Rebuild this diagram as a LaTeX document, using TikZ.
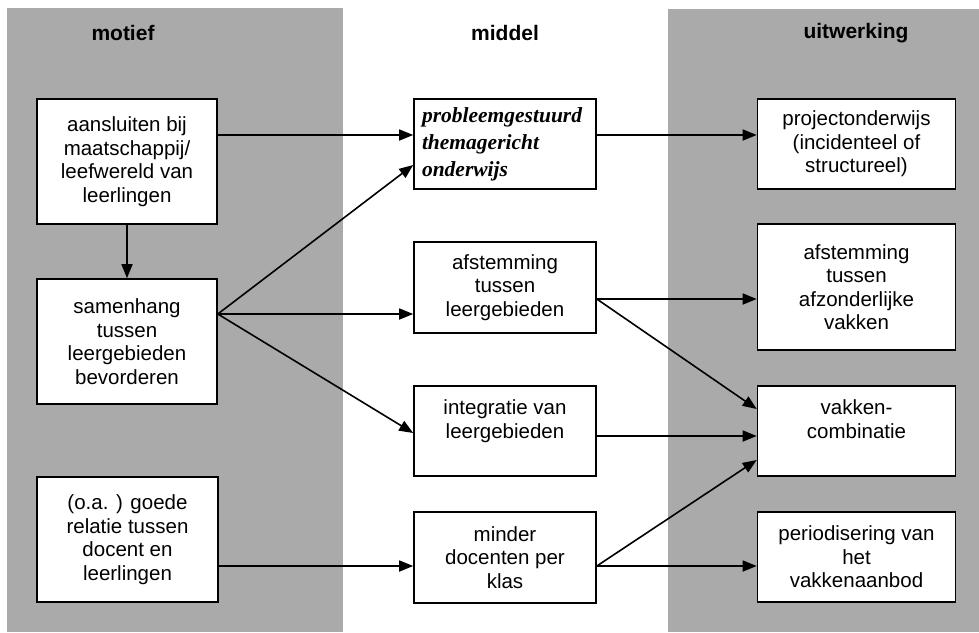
\documentclass[tikz,border=0pt]{standalone}
\usepackage{fontspec}
\setmainfont{Liberation Sans}
\newfontfamily\serifbi{Liberation Serif}
\usetikzlibrary{arrows.meta}
\definecolor{panelgray}{RGB}{170,170,170}
\tikzset{
  panel/.style={fill=panelgray, draw=none},
  hdr/.style={font=\fontsize{21}{24}\selectfont\bfseries, inner sep=0pt},
  box/.style={draw=black, fill=white, line width=1.6pt, align=center,
    inner sep=0pt, font=\fontsize{20.5}{23.5}\selectfont},
  arr/.style={line width=1.6pt, -{Triangle[length=14pt,width=11pt]}},
}
\begin{document}
\begin{tikzpicture}[x=1pt,y=-1pt]
\useasboundingbox (0,0) rectangle (979,632);
\fill[white] (0,0) rectangle (979,632);
\fill[panel] (7,8) rectangle (343,632);
\fill[panel] (668,9) rectangle (979,632);

\node[hdr] (h1) at (123,33) {motief};
\node[hdr] (h2) at (505,33) {middel};
\node[hdr] (h3) at (856,33) {uitwerking};

% left column
\node[box, minimum width=180pt, minimum height=125pt] (m1) at (127,161.5)
  {aansluiten bij\\maatschappij/\\leefwereld van\\leerlingen};
\node[box, minimum width=180pt, minimum height=125pt] (m2) at (127,341.5)
  {samenhang\\tussen\\leergebieden\\bevorderen};
\node[box, minimum width=181pt, minimum height=125pt] (m3) at (127.5,539.5)
  {(o.a. ) goede\\relatie tussen\\docent en\\leerlingen};

% middle column
\node[box, minimum width=182pt, minimum height=90pt, align=left, text width=166pt,
  inner xsep=8pt, font=\serifbi\fontsize{21.5}{27}\selectfont\bfseries\itshape] (d1) at (505,144)
  {probleemgestuurd\\themagericht\\onderwijs};
\node[box, minimum width=182pt, minimum height=91pt] (d2) at (505,287.5)
  {afstemming\\tussen\\leergebieden};
\node[box, minimum width=182pt, minimum height=90pt] (d3) at (505,431)
  {integratie van\\leergebieden\\\mbox{}};
\node[box, minimum width=182pt, minimum height=91pt] (d4) at (505,557.5)
  {minder\\docenten per\\klas};

% right column
\node[box, minimum width=198pt, minimum height=90pt] (u1) at (856.5,144)
  {projectonderwijs\\(incidenteel of\\structureel)};
\node[box, minimum width=198pt, minimum height=126pt] (u2) at (856.5,287)
  {afstemming\\tussen\\afzonderlijke\\vakken};
\node[box, minimum width=198pt, minimum height=90pt] (u3) at (856.5,431)
  {vakken-\\combinatie\\\mbox{}};
\node[box, minimum width=198pt, minimum height=90pt] (u4) at (856.5,557)
  {periodisering van\\het\\vakkenaanbod};

% connectors
\draw[arr] (m1.east |- 0,135) -- (d1.west |- 0,135);
\draw[arr] (m1.south) -- (m2.north);
\coordinate (s2) at (m2.east |- 0,314);
\draw[arr] (s2) -- (d1.west |- 0,165);
\draw[arr] (s2) -- (d2.west |- 0,314);
\draw[arr] (s2) -- (d3.west |- 0,433);
\draw[arr] (m3.east |- 0,566) -- (d4.west |- 0,566);

\draw[arr] (d1.east |- 0,135) -- (u1.west |- 0,135);
\coordinate (s3) at (d2.east |- 0,299);
\draw[arr] (s3) -- (u2.west |- 0,299);
\draw[arr] (s3) -- (u3.west |- 0,409);
\draw[arr] (d3.east |- 0,436) -- (u3.west |- 0,436);
\coordinate (s4) at (d4.east |- 0,566);
\draw[arr] (s4) -- (u3.west |- 0,460);
\draw[arr] (s4) -- (u4.west |- 0,566);
\end{tikzpicture}
\end{document}
